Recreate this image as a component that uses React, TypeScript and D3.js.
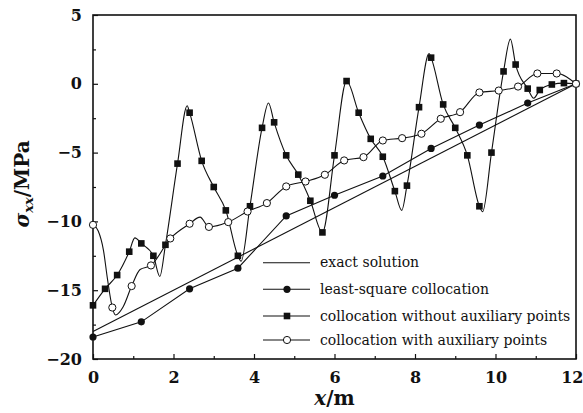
import { useEffect, useRef } from "react";
import * as d3 from "d3";

// exact solution (straight line)
const exactX = [0, 12];
const exactY = [-18, 0];

// least-square collocation (filled circles)
const lsqX = [0, 1.2, 2.4, 3.6, 4.8, 6.0, 7.2, 8.4, 9.6, 10.8, 12];
const lsqY = [-18.4, -17.3, -14.9, -13.4, -9.6, -8.1, -6.7, -4.7, -3.0, -1.4, 0];

// collocation without auxiliary points (filled squares)
const noAuxX = [
  0, 0.3, 0.6, 0.9, 1.2, 1.5, 1.8, 2.1, 2.4, 2.7, 3.0, 3.3, 3.6, 3.9, 4.2, 4.5,
  4.8, 5.1, 5.4, 5.7, 6.0, 6.3, 6.6, 6.9, 7.2, 7.5, 7.8, 8.1, 8.4, 8.7, 9.0, 9.3,
  9.6, 9.9, 10.2, 10.5, 10.8, 11.1, 11.4, 11.7, 12,
];
const noAuxY = [
  -16.1, -14.9, -13.9, -12.2, -11.6, -12.5, -11.7, -5.8, -2.1, -5.6, -7.5, -9.2,
  -12.5, -8.9, -3.2, -2.8, -5.2, -6.6, -8.5, -10.8, -5.2, 0.2, -2.1, -4.0, -5.3,
  -7.8, -7.4, -1.7, 1.9, -1.5, -3.2, -5.2, -8.9, -5.0, 0.9, 1.4, -0.35, -0.45,
  -0.05, 0.05, 0,
];
// turning points of that curve that carry no marker
const noAuxBendX = [1.04, 1.66, 2.34, 3.68, 4.36, 7.67, 8.35, 9.68, 10.37, 10.95];
const noAuxBendY = [-11.2, -14.0, -1.6, -12.9, -1.4, -9.2, 2.2, -9.3, 3.25, -1.05];

// collocation with auxiliary points (open circles)
const auxX = [
  0, 0.48, 0.96, 1.44, 1.92, 2.4, 2.88, 3.36, 3.84, 4.32, 4.8, 5.28, 5.76, 6.24,
  6.72, 7.2, 7.68, 8.16, 8.64, 9.12, 9.6, 10.08, 10.56, 11.04, 11.52, 12,
];
const auxY = [
  -10.25, -16.26, -14.7, -13.2, -11.24, -10.17, -10.4, -10.05, -9.28, -8.67,
  -7.46, -7.1, -6.61, -5.57, -5.33, -4.12, -3.95, -3.63, -2.54, -2.06, -0.63,
  -0.49, -0.2, 0.75, 0.75, 0,
];
const auxBendX = [0.13, 0.26, 0.36, 0.56, 0.75, 1.17, 2.66];
const auxBendY = [-10.7, -12.1, -14.2, -16.8, -16.2, -13.5, -9.69];

const xTicks = [0, 2, 4, 6, 8, 10, 12];
const xMinor = [1, 3, 5, 7, 9, 11];
const yTicks = [-20, -15, -10, -5, 0, 5];
const yMinor = [-17.5, -12.5, -7.5, -2.5, 2.5];

const legendLabels = [
  "exact solution",
  "least-square collocation",
  "collocation without auxiliary points",
  "collocation with auxiliary points",
];
const legendMarks = ["none", "dot", "square", "open"];

const W = 583,
  H = 413;
const margin = { top: 15, right: 7, bottom: 54, left: 93 };
const width = W - margin.left - margin.right,
  height = H - margin.top - margin.bottom;

const zip = (xs: number[], ys: number[]) => xs.map((x, i) => [x, ys[i]] as [number, number]);

const App = () => {
  const svgRef = useRef<SVGSVGElement>(null);

  useEffect(() => {
    const root = d3.select(svgRef.current);
    root.selectAll("*").remove();

    const g = root
      .append("g")
      .attr("transform", "translate(" + margin.left + "," + margin.top + ")");

    const x = d3.scaleLinear().domain([0, 12]).range([0, width]);
    const y = d3.scaleLinear().domain([-20, 5]).range([height, 0]);

    const tickFont = "bold 16px 'DejaVu Serif'";

    // axes
    const xAxis = g
      .append("g")
      .attr("transform", "translate(0," + height + ")")
      .call(
        d3.axisBottom(x).tickValues(xTicks).tickSize(-5).tickPadding(13).tickFormat(d3.format("d"))
      );
    g.append("g")
      .attr("transform", "translate(0," + height + ")")
      .call(d3.axisBottom(x).tickValues(xMinor).tickSize(-3).tickFormat(() => ""));

    const yAxis = g
      .append("g")
      .call(d3.axisLeft(y).tickValues(yTicks).tickSize(-5).tickPadding(11).tickFormat(d3.format("d")));
    g.append("g").call(d3.axisLeft(y).tickValues(yMinor).tickSize(-3).tickFormat(() => ""));

    g.selectAll(".domain").remove();
    g.selectAll(".tick line").attr("stroke", "#111").attr("stroke-width", 1.2);
    [xAxis, yAxis].forEach((a) =>
      a.selectAll("text").style("font", tickFont).attr("fill", "#111")
    );
    // the last x label sits against the page edge
    xAxis
      .selectAll<SVGTextElement, number>("text")
      .filter((d) => d === 12)
      .attr("text-anchor", "end")
      .attr("x", W - margin.left - width);

    // frame
    g.append("rect")
      .attr("width", width)
      .attr("height", height)
      .attr("fill", "none")
      .attr("stroke", "#111")
      .attr("stroke-width", 1.6);

    const straight = d3
      .line<[number, number]>()
      .x((d) => x(d[0]))
      .y((d) => y(d[1]));
    const smooth = d3
      .line<[number, number]>()
      .x((d) => x(d[0]))
      .y((d) => y(d[1]))
      .curve(d3.curveMonotoneX);

    const byX = (a: [number, number], b: [number, number]) => a[0] - b[0];

    // exact
    g.append("path")
      .datum(zip(exactX, exactY))
      .attr("d", straight)
      .attr("fill", "none")
      .attr("stroke", "#111")
      .attr("stroke-width", 1.1);

    // least-square
    g.append("path")
      .datum(zip(lsqX, lsqY))
      .attr("d", straight)
      .attr("fill", "none")
      .attr("stroke", "#111")
      .attr("stroke-width", 1.1);

    // without auxiliary points
    const noAuxCurve = zip(noAuxX, noAuxY).concat(zip(noAuxBendX, noAuxBendY)).sort(byX);
    g.append("path")
      .datum(noAuxCurve)
      .attr("d", smooth)
      .attr("fill", "none")
      .attr("stroke", "#111")
      .attr("stroke-width", 1.1);

    // with auxiliary points
    const auxCurve = zip(auxX, auxY).concat(zip(auxBendX, auxBendY)).sort(byX);
    g.append("path")
      .datum(auxCurve)
      .attr("d", smooth)
      .attr("fill", "none")
      .attr("stroke", "#111")
      .attr("stroke-width", 1.1);

    // markers
    g.append("g")
      .selectAll("rect")
      .data(zip(noAuxX, noAuxY))
      .enter()
      .append("rect")
      .attr("x", (d) => x(d[0]) - 3.3)
      .attr("y", (d) => y(d[1]) - 3.3)
      .attr("width", 6.6)
      .attr("height", 6.6)
      .attr("fill", "#111");

    g.append("g")
      .selectAll("circle")
      .data(zip(lsqX, lsqY))
      .enter()
      .append("circle")
      .attr("cx", (d) => x(d[0]))
      .attr("cy", (d) => y(d[1]))
      .attr("r", 3.6)
      .attr("fill", "#111");

    g.append("g")
      .selectAll("circle")
      .data(zip(auxX, auxY))
      .enter()
      .append("circle")
      .attr("cx", (d) => x(d[0]))
      .attr("cy", (d) => y(d[1]))
      .attr("r", 3.6)
      .attr("fill", "#fff")
      .attr("stroke", "#111")
      .attr("stroke-width", 1);

    // legend
    const legend = root.append("g");
    const rowY = [262.7, 289.3, 316, 340];
    legendLabels.forEach((label, i) => {
      const ly = rowY[i];
      legend
        .append("line")
        .attr("x1", 263)
        .attr("x2", 310)
        .attr("y1", ly)
        .attr("y2", ly)
        .attr("stroke", "#111")
        .attr("stroke-width", 1.1);
      const m = legendMarks[i];
      if (m === "dot")
        legend.append("circle").attr("cx", 287).attr("cy", ly).attr("r", 3.6).attr("fill", "#111");
      if (m === "square")
        legend
          .append("rect")
          .attr("x", 287 - 3.3)
          .attr("y", ly - 3.3)
          .attr("width", 6.6)
          .attr("height", 6.6)
          .attr("fill", "#111");
      if (m === "open")
        legend
          .append("circle")
          .attr("cx", 287)
          .attr("cy", ly)
          .attr("r", 3.6)
          .attr("fill", "#fff")
          .attr("stroke", "#111");
      legend
        .append("text")
        .attr("x", 320)
        .attr("y", ly + 4.5)
        .style("font", "14px 'DejaVu Serif'")
        .attr("fill", "#111")
        .text(label);
    });

    // axis titles
    const xt = root
      .append("text")
      .attr("x", margin.left + x(6))
      .attr("y", 405)
      .attr("text-anchor", "middle")
      .style("font", "bold 20px 'DejaVu Serif'")
      .attr("fill", "#111");
    xt.append("tspan").style("font-style", "italic").text("x");
    xt.append("tspan").text("/m");

    const yt = root
      .append("text")
      .attr("transform", "translate(29,184) rotate(-90)")
      .attr("text-anchor", "middle")
      .style("font", "bold 20px 'DejaVu Serif'")
      .attr("fill", "#111");
    yt.append("tspan").style("font-style", "italic").text("σ");
    yt.append("tspan")
      .style("font-style", "italic")
      .style("font-size", "13px")
      .attr("dy", 4)
      .text("xx");
    yt.append("tspan").attr("dy", -4).text("/MPa");
  }, []);

  return (
    <svg
      ref={svgRef}
      width={W}
      height={H}
      style={{ position: "absolute", left: 0, top: 0, background: "#fff" }}
    />
  );
};

export default App;
